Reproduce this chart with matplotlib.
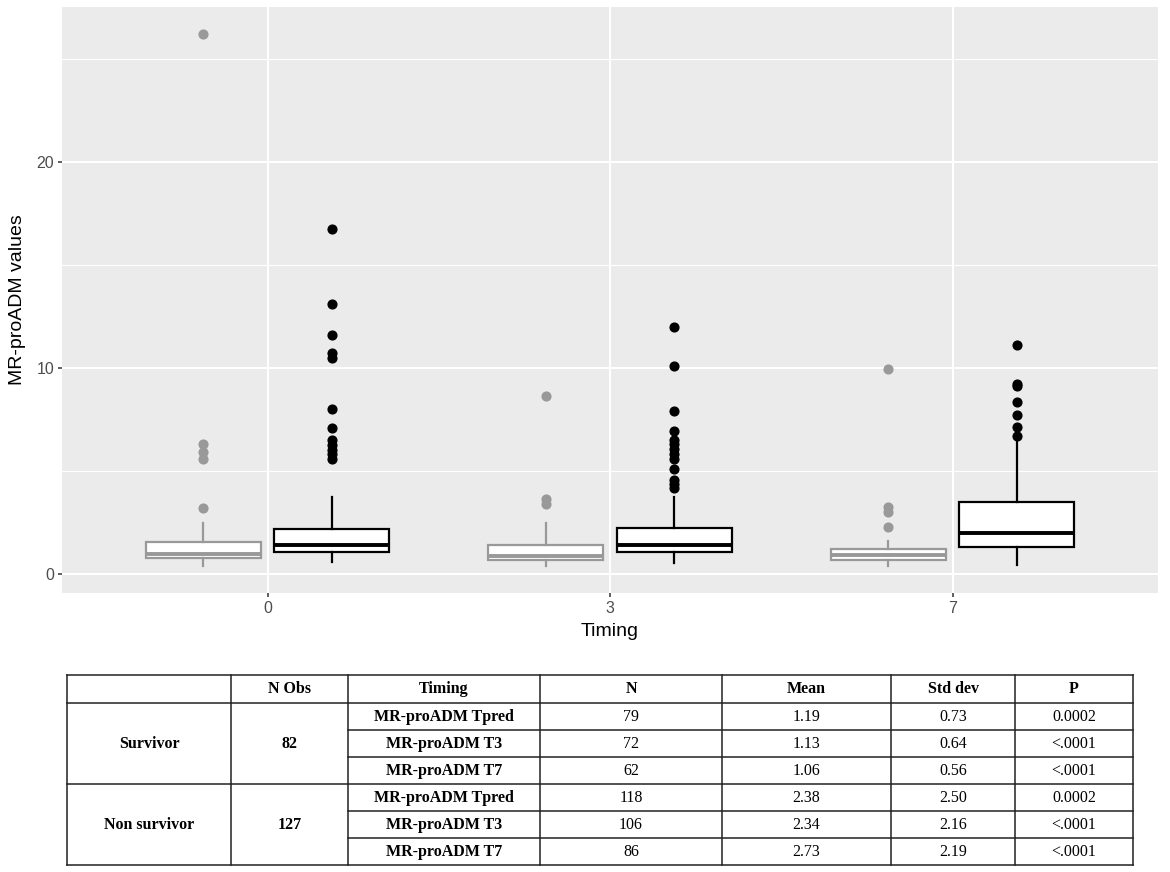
import matplotlib
matplotlib.use('Agg')
import matplotlib.pyplot as plt

# Datos (MR-proADM por momento y grupo)
timing_labels = ['0', '3', '7']

surv_q1 = [0.78, 0.68, 0.68]
surv_med = [0.99, 0.89, 0.92]
surv_q3 = [1.55, 1.41, 1.20]
surv_lo = [0.40, 0.40, 0.40]
surv_hi = [2.49, 2.49, 1.62]
surv_out = [[26.2, 6.3, 5.94, 5.58, 3.2],
            [8.61, 3.64, 3.4],
            [9.95, 3.27, 3.0, 2.3]]

nonsurv_q1 = [1.07, 1.05, 1.33]
nonsurv_med = [1.39, 1.41, 2.00]
nonsurv_q3 = [2.18, 2.22, 3.48]
nonsurv_lo = [0.60, 0.52, 0.44]
nonsurv_hi = [3.75, 3.75, 6.50]
nonsurv_out = [[16.75, 13.1, 11.6, 10.7, 10.5, 7.98, 7.1, 6.5, 6.25, 6.02, 5.83, 5.58],
               [12.0, 10.1, 7.91, 6.96, 6.5, 6.3, 6.05, 5.81, 5.58, 5.11, 4.56, 4.35, 4.19],
               [11.12, 9.22, 9.13, 8.33, 7.69, 7.12, 6.7]]

# Tabla
col_headers = ['', 'N Obs', 'Timing', 'N', 'Mean', 'Std dev', 'P']
groups = ['Survivor', 'Non survivor']
n_obs = ['82', '127']
timing_rows = ['MR-proADM Tpred', 'MR-proADM T3', 'MR-proADM T7']
n_vals = ['79', '72', '62', '118', '106', '86']
mean_vals = ['1.19', '1.13', '1.06', '2.38', '2.34', '2.73']
sd_vals = ['0.73', '0.64', '0.56', '2.50', '2.16', '2.19']
p_vals = ['0.0002', '<.0001', '<.0001', '0.0002', '<.0001', '<.0001']

W, H = 1170, 872
fig = plt.figure(figsize=(W / 100, H / 100), dpi=100)
fig.patch.set_facecolor('white')

# ---------- boxplot ----------
ax = fig.add_axes([62 / W, 1 - 593 / H, (1158 - 62) / W, (593 - 7) / H])
ax.set_facecolor('#EBEBEB')
for s in ax.spines.values():
    s.set_visible(False)

def make_stats(q1, med, q3, lo, hi, out):
    return [dict(q1=a, med=b, q3=c, whislo=d, whishi=e, fliers=f)
            for a, b, c, d, e, f in zip(q1, med, q3, lo, hi, out)]

centers = [1, 2, 3]
dodge = 0.1875
box_w = 0.336

gray = '#999999'
for stats, color, off in [
        (make_stats(surv_q1, surv_med, surv_q3, surv_lo, surv_hi, surv_out), gray, -dodge),
        (make_stats(nonsurv_q1, nonsurv_med, nonsurv_q3, nonsurv_lo, nonsurv_hi, nonsurv_out), 'black', dodge)]:
    ax.bxp(stats, positions=[c + off for c in centers], widths=box_w,
           showcaps=False, patch_artist=True, manage_ticks=False,
           boxprops=dict(facecolor='white', edgecolor=color, linewidth=1.6),
           whiskerprops=dict(color=color, linewidth=1.6),
           medianprops=dict(color=color, linewidth=2.8),
           flierprops=dict(marker='o', markerfacecolor=color, markeredgecolor=color,
                           markersize=6.3, linestyle='none'),
           zorder=3)

ax.set_xlim(0.4, 3.6)
ax.set_ylim(-0.92, 27.5)
ax.set_xticks(centers)
ax.set_xticklabels(timing_labels)
ax.set_yticks([0, 10, 20])
ax.set_yticks([5, 15, 25], minor=True)
ax.grid(which='major', color='white', linewidth=1.5, zorder=0)
ax.grid(which='minor', axis='y', color='white', linewidth=0.8, zorder=0)
ax.set_axisbelow(True)
ax.tick_params(which='major', length=3.2, width=1.1, color='#333333', labelcolor='#4D4D4D',
               labelsize=11.5, pad=2.5)
ax.tick_params(which='minor', length=0)
for lab in ax.get_xticklabels() + ax.get_yticklabels():
    lab.set_family('Liberation Sans')

ax.set_xlabel('Timing', fontsize=14, family='Liberation Sans', color='black')
ax.set_ylabel('MR-proADM values', fontsize=14, family='Liberation Sans', color='black')
ax.xaxis.set_label_coords(0.5, (593 - 632) / 586)
ax.xaxis.label.set_va('center')
ax.yaxis.set_label_coords((18 - 62) / 1096, 0.5)
ax.yaxis.label.set_va('center')

# ---------- tabla ----------
tx0, tx1, ty0, ty1 = 67, 1133, 675, 865
tax = fig.add_axes([tx0 / W, 1 - ty1 / H, (tx1 - tx0) / W, (ty1 - ty0) / H])
tax.set_xlim(tx0, tx1)
tax.set_ylim(ty1, ty0)
tax.axis('off')

col_edges = [67, 231, 348, 540, 722, 891, 1015, 1133]
row_edges = [675, 703, 730, 757, 784, 811, 838, 865]
lc = '#222222'
lw = 1.1

for x in col_edges:
    tax.plot([x, x], [ty0, ty1], color=lc, lw=lw, clip_on=False)
for i, y in enumerate(row_edges):
    if i in (0, 1, 4, 7):
        tax.plot([tx0, tx1], [y, y], color=lc, lw=lw, clip_on=False)
    else:
        tax.plot([col_edges[2], tx1], [y, y], color=lc, lw=lw, clip_on=False)

serif = 'Liberation Serif'
fs = 11.5

def cx(j):
    return (col_edges[j] + col_edges[j + 1]) / 2

def cy(i):
    return (row_edges[i] + row_edges[i + 1]) / 2

for j, h in enumerate(col_headers):
    tax.text(cx(j), cy(0), h, ha='center', va='center', fontsize=fs,
             family=serif, fontweight='bold')

for g in range(2):
    ymid = (row_edges[1 + 3 * g] + row_edges[4 + 3 * g]) / 2
    tax.text(cx(0), ymid, groups[g], ha='center', va='center', fontsize=fs,
             family=serif, fontweight='bold')
    tax.text(cx(1), ymid, n_obs[g], ha='center', va='center', fontsize=fs,
             family=serif, fontweight='bold')

for r in range(6):
    i = r + 1
    tax.text(cx(2), cy(i), timing_rows[r % 3], ha='center', va='center', fontsize=fs,
             family=serif, fontweight='bold')
    for j, vals in zip([3, 4, 5, 6], [n_vals, mean_vals, sd_vals, p_vals]):
        tax.text(cx(j), cy(i), vals[r], ha='center', va='center', fontsize=fs,
                 family=serif)

fig.savefig('out.png', dpi=100)
